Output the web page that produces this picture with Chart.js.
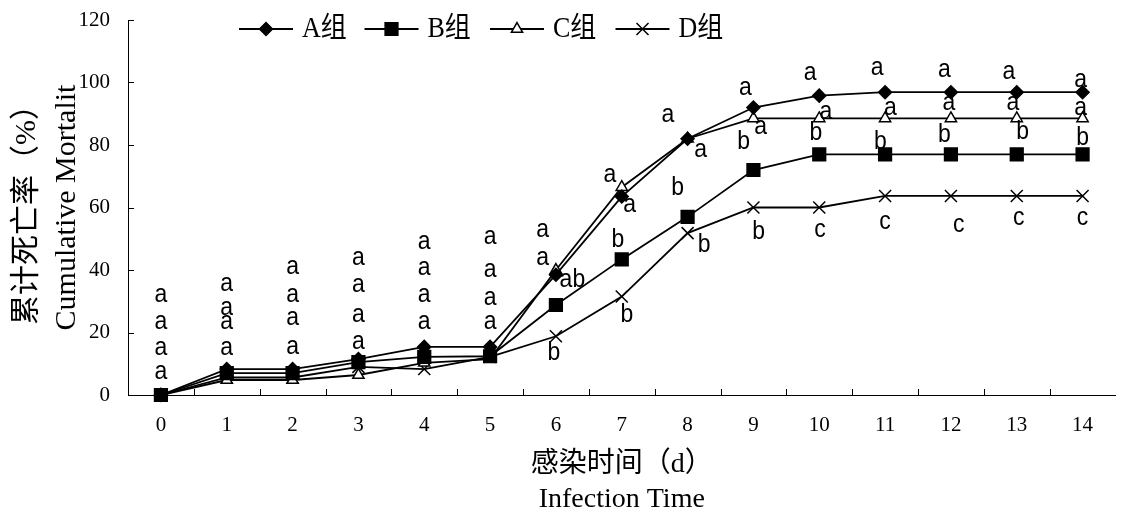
<!DOCTYPE html>
<html>
<head>
<meta charset="utf-8">
<script src="https://cdn.jsdelivr.net/npm/chart.js@4/dist/chart.umd.min.js"></script>
<style>
  html, body { margin: 0; padding: 0; overflow: hidden; background: #fff; }
  canvas { display: block; }
</style>
</head>
<body>
<canvas id="myChart" width="1126" height="514"></canvas>
<script>
// dias de infeccion
const dias = ["0", "1", "2", "3", "4", "5", "6", "7", "8", "9", "10", "11", "12", "13", "14"];

// mortalidad acumulada (%) por grupo
const grupoA = [0, 8.3, 8.3, 11.5, 15.4, 15.4, 38.5, 63.5, 82, 92, 95.8, 96.9, 96.9, 96.9, 96.9];
const grupoB = [0, 7, 7, 10.5, 12.2, 12.4, 28.8, 43.4, 57, 72, 77, 77, 77, 77, 77];
const grupoC = [0, 4.8, 4.8, 6.4, 10.3, 11.5, 40, 66.5, 82, 88.5, 88.5, 88.5, 88.5, 88.5, 88.5];
const grupoD = [0, 5.6, 5.6, 9, 8.3, 12.2, 18.8, 31.5, 51.8, 60, 60, 63.7, 63.7, 63.7, 63.7];

const nombres = ["A组", "B组", "C组", "D组"];

// letras de significancia: [dia, valor, letra]
const letras = [
  [0, 32, "a"], [0, 23.4, "a"], [0, 15, "a"], [0, 7.4, "a"],
  [1, 35.5, "a"], [1, 28, "a"], [1, 23.6, "a"], [1, 15, "a"],
  [2, 41, "a"], [2, 32, "a"], [2, 24.6, "a"], [2, 15.4, "a"],
  [3, 44, "a"], [3, 35.2, "a"], [3, 25.6, "a"], [3, 17, "a"],
  [4, 49, "a"], [4, 40.6, "a"], [4, 32, "a"], [4, 23.4, "a"],
  [5, 50.6, "a"], [5, 40, "a"], [5, 31, "a"], [5, 23.4, "a"],
  [5.8, 52.8, "a"], [5.8, 43.8, "a"], [6.25, 36.8, "ab"], [5.97, 13.4, "b"],
  [6.82, 70.4, "a"], [7.12, 60.8, "a"], [6.94, 49.6, "b"], [7.08, 25.6, "b"],
  [7.7, 89.6, "a"], [8.2, 78.4, "a"], [7.85, 66.2, "b"], [8.25, 48, "b"],
  [8.88, 98.2, "a"], [9.11, 85.8, "a"], [8.85, 81, "b"], [9.08, 52.2, "b"],
  [9.86, 103, "a"], [10.1, 90.6, "a"], [9.95, 83.8, "b"], [10.01, 52.8, "c"],
  [10.88, 104.6, "a"], [11.08, 91.8, "a"], [10.93, 81, "b"], [11, 55.4, "c"],
  [11.9, 104, "a"], [11.97, 93.4, "a"], [11.9, 83.2, "b"], [12.12, 54.4, "c"],
  [12.88, 103.4, "a"], [12.94, 93.4, "a"], [13.09, 84.2, "b"], [13.03, 56.6, "c"],
  [13.97, 100.8, "a"], [13.97, 91.8, "a"], [14, 82.2, "b"], [14, 56.6, "c"]
];

const serif = '"Liberation Serif", "Times New Roman", "Noto Sans CJK SC", serif';
const ctx = document.querySelector("#myChart");

const serie = (label, data, estilo, radio, relleno) => ({
  label: label,
  data: data,
  borderColor: "#000",
  borderWidth: 1.8,
  pointStyle: estilo,
  pointRadius: radio,
  pointHoverRadius: radio,
  pointBackgroundColor: relleno,
  pointBorderColor: "#000",
  pointBorderWidth: 1.5,
  tension: 0,
  clip: false
});

// marcas de eje hacia adentro
const marcas = {
  id: "marcas",
  afterDraw(chart) {
    const { ctx, chartArea, scales: { x, y } } = chart;
    ctx.save();
    ctx.strokeStyle = "#000";
    ctx.lineWidth = 1;
    ctx.beginPath();
    y.ticks.forEach(t => {
      const py = Math.round(y.getPixelForValue(t.value)) + 0.5;
      ctx.moveTo(chartArea.left, py);
      ctx.lineTo(chartArea.left + 6, py);
    });
    for (let i = 1; i < dias.length; i++) {
      const px = Math.round(x.getPixelForValue(i - 0.5)) + 0.5;
      ctx.moveTo(px, chartArea.bottom);
      ctx.lineTo(px, chartArea.bottom - 6);
    }
    ctx.stroke();
    ctx.restore();
  }
};

// letras sobre el grafico (un poco estiradas en vertical como el original)
const significancia = {
  id: "significancia",
  afterDatasetsDraw(chart) {
    const { ctx, scales: { x, y } } = chart;
    ctx.save();
    ctx.fillStyle = "#000";
    ctx.font = '23px "Liberation Sans", Arial, sans-serif';
    ctx.textAlign = "center";
    ctx.textBaseline = "middle";
    letras.forEach(([d, v, t]) => {
      ctx.save();
      ctx.translate(x.getPixelForValue(d), y.getPixelForValue(v));
      ctx.scale(1, 1.15);
      ctx.fillText(t, 0, 0);
      ctx.restore();
    });
    ctx.restore();
  }
};

// leyenda con linea y marcador
const leyenda = {
  id: "leyenda",
  afterDraw(chart) {
    const { ctx } = chart;
    const py = 29;
    ctx.save();
    chart.data.datasets.forEach((ds, i) => {
      const px = 239 + i * 125.5;
      ctx.strokeStyle = "#000";
      ctx.lineWidth = 1.8;
      ctx.beginPath();
      ctx.moveTo(px, py);
      ctx.lineTo(px + 54, py);
      ctx.stroke();
      ctx.fillStyle = ds.pointBackgroundColor;
      ctx.lineWidth = 1.5;
      Chart.helpers.drawPoint(ctx, {
        pointStyle: ds.pointStyle,
        radius: ds.pointRadius,
        borderWidth: 1.5,
        rotation: 0
      }, px + 27, py);
      ctx.fillStyle = "#000";
      ctx.font = "26px " + serif;
      ctx.textAlign = "left";
      ctx.textBaseline = "middle";
      ctx.save();
      ctx.translate(px + 63, py);
      ctx.scale(1, 1.1);
      ctx.fillText(ds.label, 0, 0);
      ctx.restore();
    });
    ctx.restore();
  }
};

new Chart(ctx, {
  type: "line",
  data: {
    labels: dias,
    datasets: [
      serie(nombres[0], grupoA, "rectRot", 6.5, "#000"),
      serie(nombres[1], grupoB, "rect", 9, "#000"),
      serie(nombres[2], grupoC, "triangle", 6.5, "#fff"),
      serie(nombres[3], grupoD, "crossRot", 8.5, "#000")
    ]
  },
  options: {
    responsive: false,
    animation: false,
    devicePixelRatio: 1,
    layout: { padding: { top: 20, left: 0, right: 0, bottom: 0 } },
    plugins: {
      legend: { display: false },
      tooltip: { enabled: false }
    },
    scales: {
      x: {
        offset: true,
        grid: { display: false, drawTicks: false },
        border: { display: true, color: "#000", width: 1 },
        ticks: { color: "#000", padding: 18, font: { family: serif, size: 21 } },
        title: {
          display: true,
          text: ["感染时间（d）", "Infection Time"],
          color: "#000",
          font: { family: serif, size: 28, lineHeight: 1.25 },
          padding: { top: 0, bottom: -3 }
        },
        afterFit: s => { s.height = 119; s.paddingLeft = 0; s.paddingRight = 0; }
      },
      y: {
        min: 0,
        max: 120,
        grid: { display: false, drawTicks: false },
        border: { display: true, color: "#000", width: 1 },
        ticks: { stepSize: 20, color: "#000", padding: 18, font: { family: serif, size: 21 } },
        title: {
          display: true,
          text: ["累计死亡率（%）", "Cumulative Mortalit"],
          color: "#000",
          font: { family: serif, size: 30, lineHeight: 1.333 },
          padding: { top: 7, bottom: 0 }
        },
        afterFit: s => { s.width = 128; s.paddingTop = 0; s.paddingBottom = 0; }
      }
    }
  },
  plugins: [marcas, significancia, leyenda]
});
</script>
</body>
</html>
